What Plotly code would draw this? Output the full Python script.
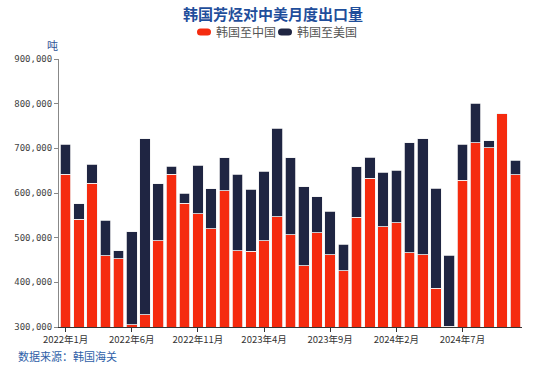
import plotly.graph_objects as go

months = [f"{y}年{m}月" for y in (2022, 2023, 2024) for m in range(1, 13)][:35]

# Korea -> China (tons)
to_china = [642000, 541500, 622000, 459000, 453000, 305000, 327000, 492800, 642000, 577000,
            553000, 520000, 605000, 471000, 469700, 493500, 547000, 507000, 437400, 510800,
            462000, 425600, 546000, 633400, 525000, 533000, 466600, 462000, 386800, 302000,
            628000, 713000, 701000, 777000, 640800]
# Korea -> USA (tons)
to_usa = [67600, 34300, 42800, 80000, 18000, 208000, 395000, 127800, 18000, 22000,
          109600, 90000, 74000, 171000, 139000, 155500, 197600, 172000, 176600, 81200,
          97400, 59800, 112700, 47100, 121900, 117400, 246000, 259500, 224200, 158800,
          81600, 87700, 16000, 0, 33000]

series_names = ["韩国至中国", "韩国至美国"]
tick_labels = months[::5]
y_ticks = [300000, 400000, 500000, 600000, 700000, 800000, 900000]

RED = "#F52B0F"
NAVY = "#1F2542"

L, R, T, B, W, H = 59, 24, 59, 43, 546, 370
PW, PH = W - L - R, H - T - B


def px(xp):
    return (xp - L) / PW


def py(yp):
    return (T + PH - yp) / PH


fig = go.Figure()
fig.add_trace(go.Bar(x=months, y=to_china, name=series_names[0],
                     marker=dict(color=RED, line=dict(color="#f3f3f3", width=0.8))))
fig.add_trace(go.Bar(x=months, y=to_usa, name=series_names[1],
                     marker=dict(color=NAVY, line=dict(color="#f3f3f3", width=0.8))))

fig.update_layout(
    width=W, height=H,
    barmode="stack", bargap=0.2,
    paper_bgcolor="white", plot_bgcolor="white",
    margin=dict(l=L, r=R, t=T, b=B, autoexpand=False),
    font=dict(family="Noto Sans CJK SC", size=11, color="#444"),
    title=dict(text="<b>韩国芳烃对中美月度出口量</b>", x=0.5, xanchor="center", xref="container",
               y=1 - 15 / H, yref="container", yanchor="middle",
               font=dict(size=15, color="#1F4E9B", family="Noto Sans CJK SC")),
    showlegend=False,
    xaxis=dict(type="category", tickmode="array", tickvals=tick_labels, ticktext=tick_labels,
               showline=True, linecolor="#333", linewidth=1, ticks="outside", ticklen=4,
               tickcolor="#333", tickfont=dict(size=9.5, color="#333"), showgrid=False,
               automargin=False),
    yaxis=dict(range=[300000, 900000], tickvals=y_ticks, tickformat=",",
               showline=True, linecolor="#888", linewidth=1, ticks="outside", ticklen=4,
               tickcolor="#888", showgrid=False, zeroline=False, automargin=False,
               tickfont=dict(size=9, color="#444", family="DejaVu Sans Mono")),
)


def pill(x0, x1, yc, h, color):
    r = h / 2
    y0, y1 = yc - r, yc + r
    path = (f"M {px(x0 + r)} {py(y0)} L {px(x1 - r)} {py(y0)} "
            f"Q {px(x1)} {py(y0)} {px(x1)} {py(yc)} "
            f"Q {px(x1)} {py(y1)} {px(x1 - r)} {py(y1)} "
            f"L {px(x0 + r)} {py(y1)} "
            f"Q {px(x0)} {py(y1)} {px(x0)} {py(yc)} "
            f"Q {px(x0)} {py(y0)} {px(x0 + r)} {py(y0)} Z")
    fig.add_shape(type="path", path=path, xref="paper", yref="paper",
                  fillcolor=color, line=dict(width=0))


# legend (manual, to match the compact pill-shaped swatches)
leg_y = 32
for sx, name, col in [(197, series_names[0], RED), (278, series_names[1], NAVY)]:
    pill(sx, sx + 14, leg_y, 7, col)
    fig.add_annotation(text=name, xref="paper", yref="paper", x=px(sx + 17), y=py(leg_y),
                       xanchor="left", yanchor="middle", showarrow=False,
                       font=dict(size=12, color="#555"))

fig.add_annotation(text="吨", xref="paper", yref="paper", x=px(52), y=py(45),
                   xanchor="center", yanchor="middle", showarrow=False,
                   font=dict(size=11, color="#2F5597"))
fig.add_annotation(text="数据来源：韩国海关", xref="paper", yref="paper",
                   x=px(16), y=py(356), xanchor="left", yanchor="middle",
                   showarrow=False, font=dict(size=11, color="#2F5FA8"))

fig.write_html("out.html", config={"displayModeBar": False},
               post_script="document.body.style.margin='0';")
